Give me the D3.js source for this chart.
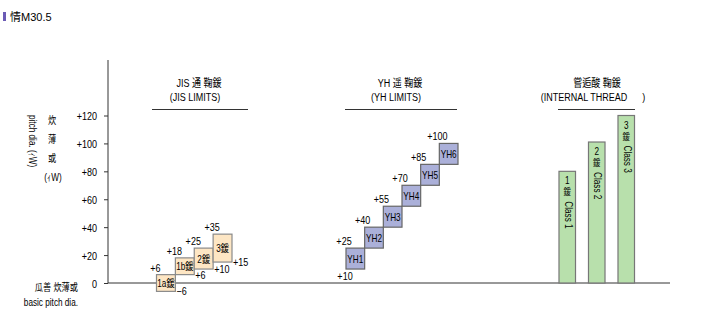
<!DOCTYPE html>
<html>
<head>
<meta charset="utf-8">
<script src="https://cdn.jsdelivr.net/npm/d3@7"></script>
<style>
  html, body { margin: 0; padding: 0; background: #fff; }
  svg text { font-family: "Liberation Sans", Arial, "Noto Sans CJK JP", sans-serif; fill: #000; white-space: pre; }
</style>
</head>
<body>
<svg id="chart" width="708" height="334"></svg>
<script>
// Tolerance scale ticks (µm)
const yTicks = [0, 20, 40, 60, 80, 100, 120];

// JIS limits: grade, lower and upper deviation
const jisGrades = ["1a", "1b", "2", "3"];
const jisLow  = [-6, 6, 10, 15];
const jisHigh = [6, 18, 25, 35];

// YH limits
const yhGrades = ["YH1", "YH2", "YH3", "YH4", "YH5", "YH6"];
const yhLow  = [10, 25, 40, 55, 70, 85];
const yhHigh = [25, 40, 55, 70, 85, 100];

// Internal thread classes
const classNames = ["1", "2", "3"];
const classTop   = [80, 101, 120];

// Group headings
const groupTitles = [
  ["JIS 通 鞠鍰", "(JIS LIMITS)"],
  ["YH 遥 鞠鍰", "(YH LIMITS)"],
  ["嘗逅酸 鞠鍰", "(INTERNAL THREAD\u00a0\u00a0\u00a0\u00a0\u00a0\u00a0)"]
];

const svg = d3.select("#chart");
const K = 0.82; // horizontal condensing of the label face

// Turn x/y placement into a condensed transform
function narrow(sel, extra) {
  sel.each(function () {
    const t = d3.select(this);
    const x = +t.attr("x") || 0, yy = +t.attr("y") || 0;
    t.attr("x", null).attr("y", null)
      .attr("transform", `translate(${x},${yy}) ${extra || ""} scale(${K},1)`);
  });
  return sel;
}

const axisX = 108, baseTop = 60, baseRight = 670;
const y = d3.scaleLinear().domain([0, 120]).range([283, 115.5]);

// Header
svg.append("rect").attr("x", 3).attr("y", 12).attr("width", 3).attr("height", 9).attr("fill", "#6b5bb5");
svg.append("text").attr("x", 10).attr("y", 21).attr("font-size", 11).text("情M30.5");

// Y axis
const yAxis = d3.axisLeft(y).tickValues(yTicks).tickSize(4).tickPadding(7)
  .tickFormat(d => d > 0 ? "+" + d : String(d));
const gy = svg.append("g").attr("transform", `translate(${axisX},0)`).call(yAxis);
gy.select(".domain").remove();
gy.selectAll(".tick line").attr("stroke", "#333");
gy.selectAll(".tick text").attr("font-size", 11).attr("font-family", null).attr("y", 4).attr("dy", null);
narrow(gy.selectAll(".tick text"));
svg.append("line").attr("x1", axisX).attr("x2", axisX).attr("y1", baseTop).attr("y2", y(0))
  .attr("stroke", "#333");
svg.append("line").attr("x1", axisX).attr("x2", baseRight).attr("y1", y(0)).attr("y2", y(0))
  .attr("stroke", "#333");

// Axis caption
narrow(svg.append("text").attr("font-size", 10).attr("x", 29).attr("y", 115).text("pitch dia. (ｨW)"), "rotate(90)");
const capChars = ["炊", "薄", "或"];
narrow(svg.selectAll("text.capchar").data(capChars).join("text").attr("class", "capchar")
  .attr("font-size", 10).attr("text-anchor", "middle")
  .attr("x", 52).attr("y", (d, i) => 124 + i * 19).text(d => d));
narrow(svg.append("text").attr("font-size", 10).attr("text-anchor", "middle").attr("x", 53).attr("y", 181).text("(ｨW)"));
narrow(svg.append("text").attr("font-size", 10).attr("text-anchor", "end").attr("x", 78).attr("y", 291).text("瓜善 炊薄或"));
narrow(svg.append("text").attr("font-size", 10).attr("text-anchor", "end").attr("x", 78).attr("y", 306).text("basic pitch dia."));

// Group headings with underline
const headings = [
  { cx: 197, x1: 152, x2: 248 },
  { cx: 398, x1: 345, x2: 457 },
  { cx: 595, x1: 558, x2: 635 }
];
headings.forEach((h, i) => {
  narrow(svg.append("text").attr("font-size", 11).attr("text-anchor", "middle").attr("x", h.cx + 2).attr("y", 87).text(groupTitles[i][0]));
  narrow(svg.append("text").attr("font-size", 11).attr("text-anchor", "middle").attr("x", h.cx - 2).attr("y", 101).text(groupTitles[i][1]));
  svg.append("line").attr("x1", h.x1).attr("x2", h.x2).attr("y1", 109.5).attr("y2", 109.5).attr("stroke", "#333");
});

const fmt = v => v > 0 ? "+" + v : (v < 0 ? "\u2212" + Math.abs(v) : "0");

// JIS boxes
const xJ = d3.scaleBand().domain(jisGrades).range([156.5, 232]).paddingInner(0);
const jis = jisGrades.map((g, i) => ({ g, lo: jisLow[i], hi: jisHigh[i] }));
const gJ = svg.append("g");
gJ.selectAll("rect").data(jis).join("rect")
  .attr("x", d => xJ(d.g)).attr("y", d => y(d.hi))
  .attr("width", xJ.bandwidth()).attr("height", d => y(d.lo) - y(d.hi))
  .attr("fill", "#fde6c4").attr("stroke", "#8a8a8a").attr("stroke-width", 1.2);
narrow(gJ.selectAll("text.in").data(jis).join("text").attr("class", "in")
  .attr("font-size", 10).attr("text-anchor", "middle")
  .attr("x", d => xJ(d.g) + xJ.bandwidth() / 2).attr("y", d => (y(d.lo) + y(d.hi)) / 2 + 4)
  .text(d => d.g + "鍰"));
narrow(gJ.selectAll("text.hi").data(jis).join("text").attr("class", "hi")
  .attr("font-size", 11).attr("text-anchor", "middle")
  .attr("x", d => xJ(d.g) - 1).attr("y", d => y(d.hi) - 3).text(d => fmt(d.hi)));
narrow(gJ.selectAll("text.lo").data(jis).join("text").attr("class", "lo")
  .attr("font-size", 11).attr("text-anchor", "start")
  .attr("x", d => xJ(d.g) + xJ.bandwidth() + 1).attr("y", d => y(d.lo) + 4).text(d => fmt(d.lo)));

// YH boxes
const xY = d3.scaleBand().domain(yhGrades).range([346, 458]).paddingInner(0);
const yh = yhGrades.map((g, i) => ({ g, lo: yhLow[i], hi: yhHigh[i] }));
const gY = svg.append("g");
gY.selectAll("rect").data(yh).join("rect")
  .attr("x", d => xY(d.g)).attr("y", d => y(d.hi))
  .attr("width", xY.bandwidth()).attr("height", d => y(d.lo) - y(d.hi))
  .attr("fill", "#abb0d9").attr("stroke", "#666").attr("stroke-width", 1.2);
narrow(gY.selectAll("text.in").data(yh).join("text").attr("class", "in")
  .attr("font-size", 10).attr("text-anchor", "middle")
  .attr("x", d => xY(d.g) + xY.bandwidth() / 2).attr("y", d => (y(d.lo) + y(d.hi)) / 2 + 4)
  .text(d => d.g));
narrow(gY.selectAll("text.hi").data(yh).join("text").attr("class", "hi")
  .attr("font-size", 11).attr("text-anchor", "middle")
  .attr("x", d => xY(d.g) - 2).attr("y", d => y(d.hi) - 3).text(d => fmt(d.hi)));
narrow(gY.append("text").attr("font-size", 11).attr("text-anchor", "middle")
  .attr("x", xY(yh[0].g) - 1).attr("y", y(yh[0].lo) + 11).text(fmt(yh[0].lo)));

// Internal thread class bars
const xC = d3.scaleBand().domain(classNames).range([552.5, 641]).paddingInner(0.44).paddingOuter(0.22);
const cls = classNames.map((c, i) => ({ c, top: classTop[i] }));
const gC = svg.append("g");
gC.selectAll("rect").data(cls).join("rect")
  .attr("x", d => xC(d.c)).attr("y", d => y(d.top))
  .attr("width", xC.bandwidth()).attr("height", d => y(0) - y(d.top))
  .attr("fill", "#b8e0ac").attr("stroke", "#777").attr("stroke-width", 1.2);
narrow(gC.selectAll("text.num").data(cls).join("text").attr("class", "num")
  .attr("font-size", 10).attr("text-anchor", "middle")
  .attr("x", d => xC(d.c) + xC.bandwidth() / 2).attr("y", d => y(d.top) + 13).text(d => d.c));
narrow(gC.selectAll("text.kj").data(cls).join("text").attr("class", "kj")
  .attr("font-size", 9).attr("text-anchor", "middle")
  .attr("x", d => xC(d.c) + xC.bandwidth() / 2).attr("y", d => y(d.top) + 24).text("鍰"));
narrow(gC.selectAll("text.cl").data(cls).join("text").attr("class", "cl")
  .attr("font-size", 10)
  .attr("x", d => xC(d.c) + xC.bandwidth() / 2 - 2.5).attr("y", d => y(d.top) + 30)
  .text(d => "Class " + d.c), "rotate(90)");
</script>
</body>
</html>
